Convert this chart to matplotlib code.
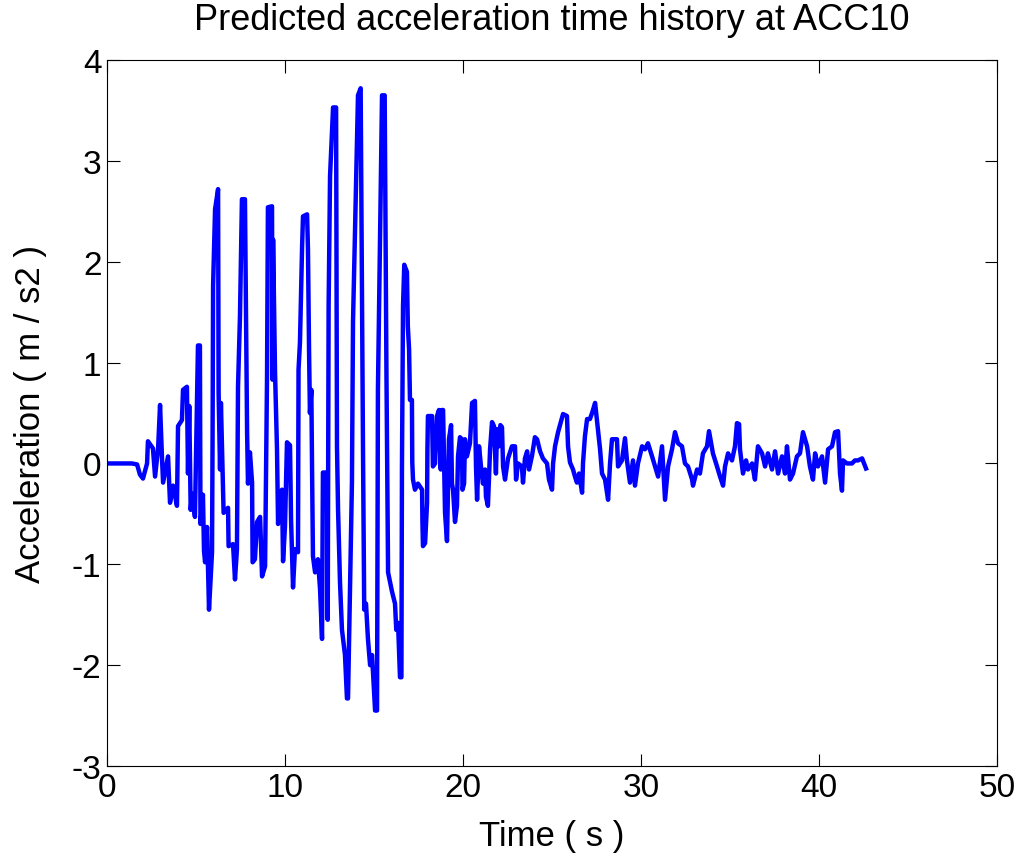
import matplotlib
matplotlib.use("Agg")
import matplotlib.pyplot as plt

plt.rcParams['font.family'] = ['Liberation Sans', 'DejaVu Sans']
plt.rcParams['axes.unicode_minus'] = False

# values (time in s, acceleration in m/s2)
time_s = [
    0.00, 1.40, 1.69, 1.85, 2.02, 2.25, 2.30, 2.58, 2.70, 2.87, 2.98, 3.09, 3.15, 3.43, 3.54,
    3.71, 3.93, 3.99, 4.21, 4.27, 4.49, 4.55, 4.62, 4.70, 4.78, 4.94, 5.06, 5.11, 5.22, 5.25,
    5.39, 5.45, 5.51, 5.62, 5.73, 5.90, 5.93, 5.96, 6.07, 6.24, 6.27, 6.35, 6.40, 6.52, 6.55,
    6.80, 6.83, 7.08, 7.19, 7.30, 7.36, 7.47, 7.58, 7.75, 7.87, 7.92, 8.03, 8.15, 8.18, 8.31,
    8.43, 8.60, 8.71, 8.88, 8.99, 9.04, 9.27, 9.30, 9.33, 9.44, 9.55, 9.61, 9.72, 9.83, 9.89,
    10.00, 10.11, 10.28, 10.34, 10.45, 10.56, 10.73, 10.76, 10.84, 10.96, 11.01, 11.24, 11.29,
    11.35, 11.40, 11.48, 11.52, 11.57, 11.69, 11.85, 11.97, 12.08, 12.13, 12.36, 12.40, 12.45,
    12.53, 12.70, 12.87, 12.92, 12.98, 13.09, 13.20, 13.37, 13.48, 13.54, 13.65, 13.76, 13.82,
    14.10, 14.25, 14.38, 14.45, 14.55, 14.66, 14.78, 14.89, 15.06, 15.17, 15.22, 15.45, 15.60,
    15.70, 15.79, 16.01, 16.18, 16.25, 16.35, 16.46, 16.54, 16.57, 16.63, 16.70, 16.85, 16.90,
    16.97, 17.02, 17.13, 17.15, 17.19, 17.30, 17.47, 17.70, 17.72, 17.75, 17.87, 17.98, 18.00,
    18.03, 18.26, 18.31, 18.43, 18.54, 18.65, 18.71, 18.75, 18.82, 18.88, 18.99, 19.10, 19.21,
    19.33, 19.38, 19.44, 19.55, 19.66, 19.72, 19.83, 19.94, 19.97, 20.06, 20.11, 20.22, 20.39,
    20.51, 20.67, 20.73, 20.79, 20.90, 21.01, 21.12, 21.24, 21.29, 21.40, 21.52, 21.63, 21.74,
    21.85, 21.91, 22.02, 22.10, 22.19, 22.25, 22.36, 22.53, 22.75, 22.92, 22.98, 23.09, 23.31,
    23.37, 23.48, 23.60, 23.71, 23.88, 24.04, 24.16, 24.33, 24.49, 24.72, 24.83, 25.00, 25.06,
    25.17, 25.34, 25.62, 25.84, 25.90, 26.01, 26.18, 26.29, 26.40, 26.52, 26.69, 26.74, 26.85,
    26.97, 27.13, 27.25, 27.42, 27.70, 27.81, 27.98, 28.15, 28.26, 28.37, 28.65, 28.71, 28.93,
    29.10, 29.21, 29.38, 29.55, 29.66, 29.83, 30.06, 30.22, 30.39, 30.62, 30.79, 30.96, 31.18,
    31.35, 31.52, 31.74, 31.91, 32.08, 32.30, 32.47, 32.64, 32.87, 32.92, 33.15, 33.31, 33.48,
    33.71, 33.82, 34.04, 34.27, 34.44, 34.61, 34.72, 34.89, 35.11, 35.28, 35.39, 35.51, 35.56,
    35.73, 35.90, 36.01, 36.24, 36.40, 36.57, 36.80, 36.97, 37.13, 37.36, 37.53, 37.70, 37.92,
    38.09, 38.20, 38.37, 38.54, 38.76, 38.93, 39.10, 39.33, 39.49, 39.66, 39.78, 39.94, 40.17,
    40.34, 40.51, 40.73, 40.90, 41.07, 41.18, 41.29, 41.35, 41.57, 41.85, 42.02, 42.19, 42.42,
    42.64,
]
accel = [
    0.00, 0.00, -0.01, -0.11, -0.15, 0.00, 0.22, 0.15, -0.13, 0.15, 0.58, 0.05, -0.19, 0.07, -0.39,
    -0.22, -0.42, 0.37, 0.43, 0.73, 0.76, -0.10, 0.57, -0.46, -0.30, -0.53, 0.67, 1.17, 1.17, -0.60,
    -0.31, -0.87, -0.98, -0.63, -1.45, -0.88, 0.24, 1.76, 2.52, 2.72, 0.70, -0.06, 0.60, -0.29, -0.49,
    -0.44, -0.82, -0.80, -1.15, -0.85, 0.76, 1.46, 2.62, 2.62, 0.31, -0.20, 0.11, -0.19, -0.98, -0.95,
    -0.58, -0.53, -1.12, -1.02, 0.86, 2.54, 2.55, 0.83, 2.22, 0.90, 0.14, -0.60, -0.36, -0.26, -0.97,
    -0.62, 0.21, 0.18, -0.56, -1.23, -0.85, -0.88, 0.93, 1.20, 2.15, 2.45, 2.47, 2.12,
    1.13, 0.50, 0.73, -0.06, -0.92, -1.08, -0.95, -1.25, -1.74, -0.09, -0.09, -1.55, 1.56,
    2.85, 3.53, 3.53, 0.17, -0.46, -1.18, -1.65, -1.90, -2.33, -2.33, -1.24, -0.19, 1.40,
    3.65, 3.72, 0.17, -1.45, -1.39, -1.74, -2.00, -1.90, -2.45, -2.45, 0.73, 3.65, 3.65,
    0.86, -1.08, -1.27, -1.39, -1.65, -1.58, -2.12, -2.12, -0.03, 1.56, 1.97, 1.90, 1.36,
    1.13, 0.63, 0.63, 0.01, -0.16, -0.26, -0.20, -0.26, -0.58, -0.82, -0.79, -0.39, 0.14,
    0.47, 0.47, -0.03, 0.00, 0.47, 0.53, 0.14, -0.06, 0.53, 0.53, -0.49, -0.77, 0.24,
    0.38, -0.20, -0.26, -0.58, -0.42, 0.07, 0.26, 0.24, -0.26, -0.20, 0.24, 0.07, 0.20,
    0.60, 0.62, -0.03, -0.36, 0.17, -0.03, -0.20, -0.06, -0.33, -0.42, 0.14, 0.41, 0.37,
    -0.10, 0.34, 0.17, 0.38, 0.36, -0.03, -0.16, 0.05, 0.17, 0.17, -0.16, 0.00, -0.03,
    -0.19, 0.05, 0.12, -0.06, 0.08, 0.26, 0.24, 0.12, 0.05, 0.00, -0.16, -0.26, 0.00,
    0.17, 0.31, 0.49, 0.47, 0.17, 0.01, -0.06, -0.13, -0.19, -0.10, -0.29, 0.00, 0.27,
    0.44, 0.44, 0.50, 0.60, 0.14, -0.10, -0.16, -0.36, 0.00, 0.24, 0.24, -0.03, 0.03,
    0.25, 0.03, -0.19, 0.03, -0.22, 0.00, 0.17, 0.14, 0.20, 0.07, -0.03, -0.13, 0.17,
    -0.36, -0.03, 0.14, 0.31, 0.20, 0.17, 0.00, -0.03, -0.16, -0.22, -0.06, -0.10, 0.10,
    0.17, 0.32, 0.10, -0.03, -0.13, -0.22, -0.03, 0.10, 0.03, 0.17, 0.40, 0.39, 0.14,
    -0.10, 0.03, -0.06, 0.00, -0.16, 0.17, 0.10, -0.03, 0.10, -0.06, 0.12, -0.10, 0.07,
    -0.10, 0.17, -0.16, -0.10, 0.07, 0.10, 0.31, 0.17, -0.03, -0.16, 0.10, -0.03, 0.07,
    -0.19, 0.14, 0.17, 0.31, 0.32, -0.10, -0.27, 0.03, 0.00, 0.00, 0.03, 0.03, 0.05,
    -0.05,
]

x_ticks = [0, 10, 20, 30, 40, 50]
y_ticks = [-3, -2, -1, 0, 1, 2, 3, 4]

fig = plt.figure(figsize=(10.23, 8.62), dpi=100)
ax = fig.add_axes([0.1046, 0.1102, 0.870, 0.819])
ax.plot(time_s, accel, color=(0, 0, 1), linewidth=3.2)

ax.set_xlim(0, 50)
ax.set_ylim(-3, 4)
ax.set_xticks(x_ticks)
ax.set_yticks(y_ticks)
ax.tick_params(direction='in', length=9, width=0.8, labelsize=24,
               top=True, right=True, pad=4)
for s in ax.spines.values():
    s.set_linewidth(0.8)

ax.set_xlabel("Time ( s )", fontsize=25, labelpad=12)
ax.set_ylabel("Acceleration ( m / s2 )", fontsize=25, labelpad=18)
ax.set_title("Predicted acceleration time history at ACC10", fontsize=26, pad=22)

fig.savefig("out.png", dpi=100)
